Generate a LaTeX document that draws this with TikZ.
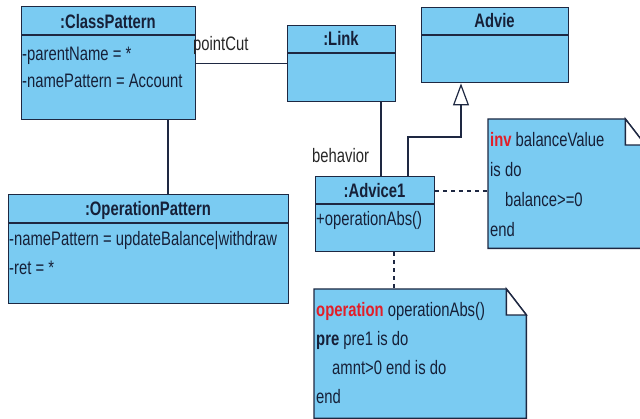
\documentclass[tikz,border=0pt]{standalone}
\usepackage{fontspec}
\setmainfont{Liberation Sans}[FakeStretch=0.76]
\usetikzlibrary{arrows.meta,calc}
\definecolor{boxfill}{RGB}{122,203,242}
\definecolor{boxline}{RGB}{30,40,66}
\definecolor{ink}{RGB}{22,32,56}
\definecolor{kwred}{RGB}{226,30,40}

\begin{document}
\begin{tikzpicture}[x=1pt,y=-1pt,
  umlbox/.style={draw=boxline, fill=boxfill, line width=1.4pt, inner sep=0pt, anchor=north west},
  noteframe/.style={anchor=north west, inner sep=0pt},
  notebody/.style={draw=boxline, fill=boxfill, line width=1.4pt, line join=miter},
  foldline/.style={draw=boxline, fill=white, line width=1.4pt},
  rule/.style={draw=boxline, line width=1.4pt},
  txt/.style={anchor=base west, inner sep=0pt, text=ink, font=\fontsize{19.5}{22}\selectfont},
  head/.style={anchor=base, inner sep=0pt, text=ink, font=\fontsize{19.5}{22}\selectfont\bfseries},
  lbl/.style={anchor=base west, inner sep=0pt, text=black!85, font=\fontsize{19.5}{22}\selectfont},
  conn/.style={draw=boxline, line width=1.2pt},
  dep/.style={conn, dash pattern=on 4pt off 4pt}]

\useasboundingbox (0,0) rectangle (640,419);
\clip (0,0) rectangle (640,419);

% classes and objects
\node[umlbox, minimum width=174pt, minimum height=113pt] (cp) at (21,6) {};
\node[umlbox, minimum width=108pt, minimum height=76pt] (link) at (287,25) {};
\node[umlbox, minimum width=147pt, minimum height=75pt] (advie) at (421,7) {};
\node[umlbox, minimum width=119pt, minimum height=75pt] (adv) at (315,176) {};
\node[umlbox, minimum width=280pt, minimum height=109pt] (op) at (8,194) {};

% compartment separators
\draw[rule] ([yshift=-29pt]cp.north west) -- ([yshift=-29pt]cp.north east);
\draw[rule] ([yshift=-28pt]link.north west) -- ([yshift=-28pt]link.north east);
\draw[rule] ([yshift=-28pt]advie.north west) -- ([yshift=-28pt]advie.north east);
\draw[rule] ([yshift=-28pt]adv.north west) -- ([yshift=-28pt]adv.north east);
\draw[rule] ([yshift=-29pt]op.north west) -- ([yshift=-29pt]op.north east);

% names and attributes
\node[head] (cpname) at (108,29) {:ClassPattern};
\node[txt] (cpa1) at (22,61) {-parentName = *};
\node[txt] (cpa2) at (22,88) {-namePattern = Account};
\node[head] (linkname) at (341,46) {:Link};
\node[head] (adviename) at (494.5,28) {Advie};
\node[head] (advname) at (374.5,198) {:Advice1};
\node[txt] (advop) at (316,226) {+operationAbs()};
\node[head] (opname) at (148,216) {:OperationPattern};
\node[txt] (opa1) at (9,246) {-namePattern = updateBalance|withdraw};
\node[txt] (opa2) at (9,275) {-ret = *};

% notes
\node[noteframe, minimum width=157pt, minimum height=129pt] (inv) at (488,119) {};
\node[noteframe, minimum width=212pt, minimum height=129pt] (opn) at (314,289) {};
\foreach \n in {inv,opn}{
  \path[notebody] (\n.north west) -- ([xshift=-20pt]\n.north east)
    -- ([yshift=-26pt]\n.north east) -- (\n.south east) -- (\n.south west) -- cycle;
  \path[foldline] ([xshift=-20pt]\n.north east) -- ([xshift=-20pt,yshift=-26pt]\n.north east)
    -- ([yshift=-26pt]\n.north east) -- cycle;
}
\node[txt] (inv1) at (490,147) {\textcolor{kwred}{\bfseries inv} balanceValue};
\node[txt] (inv2) at (490,177) {is do};
\node[txt] (inv3) at (505,207) {balance>=0};
\node[txt] (inv4) at (490,237) {end};
\node[txt] (opn1) at (316,317) {\textcolor{kwred}{\bfseries operation} operationAbs()};
\node[txt] (opn2) at (316,346) {{\bfseries pre} pre1 is do};
\node[txt] (opn3) at (332,375) {amnt>0 end is do};
\node[txt] (opn4) at (316,404) {end};

% associations
\draw[conn] (cp.east) -- (cp.east -| link.west);
\draw[conn] ([xshift=147pt]cp.south west) -- ([xshift=147pt]cp.south west |- op.north);
\draw[conn] ([xshift=94pt]link.south west) -- ([xshift=94pt]link.south west |- adv.north);
\node[lbl] (pc) at (193,51) {pointCut};
\node[lbl] (bh) at (312,163) {behavior};

% generalization
\draw[conn, -{Triangle[open, length=22pt, width=16pt, fill=white]}]
  ([xshift=93pt]adv.north west) -- ++(0,-39) -| ([xshift=40pt]advie.south west);

% note attachments
\draw[dep] ([yshift=-15pt]adv.north east) -- ([yshift=-15pt]adv.north east -| inv.west);
\draw[dep] ([xshift=79pt]adv.south west) -- ([xshift=79pt]adv.south west |- opn.north);
\end{tikzpicture}
\end{document}
